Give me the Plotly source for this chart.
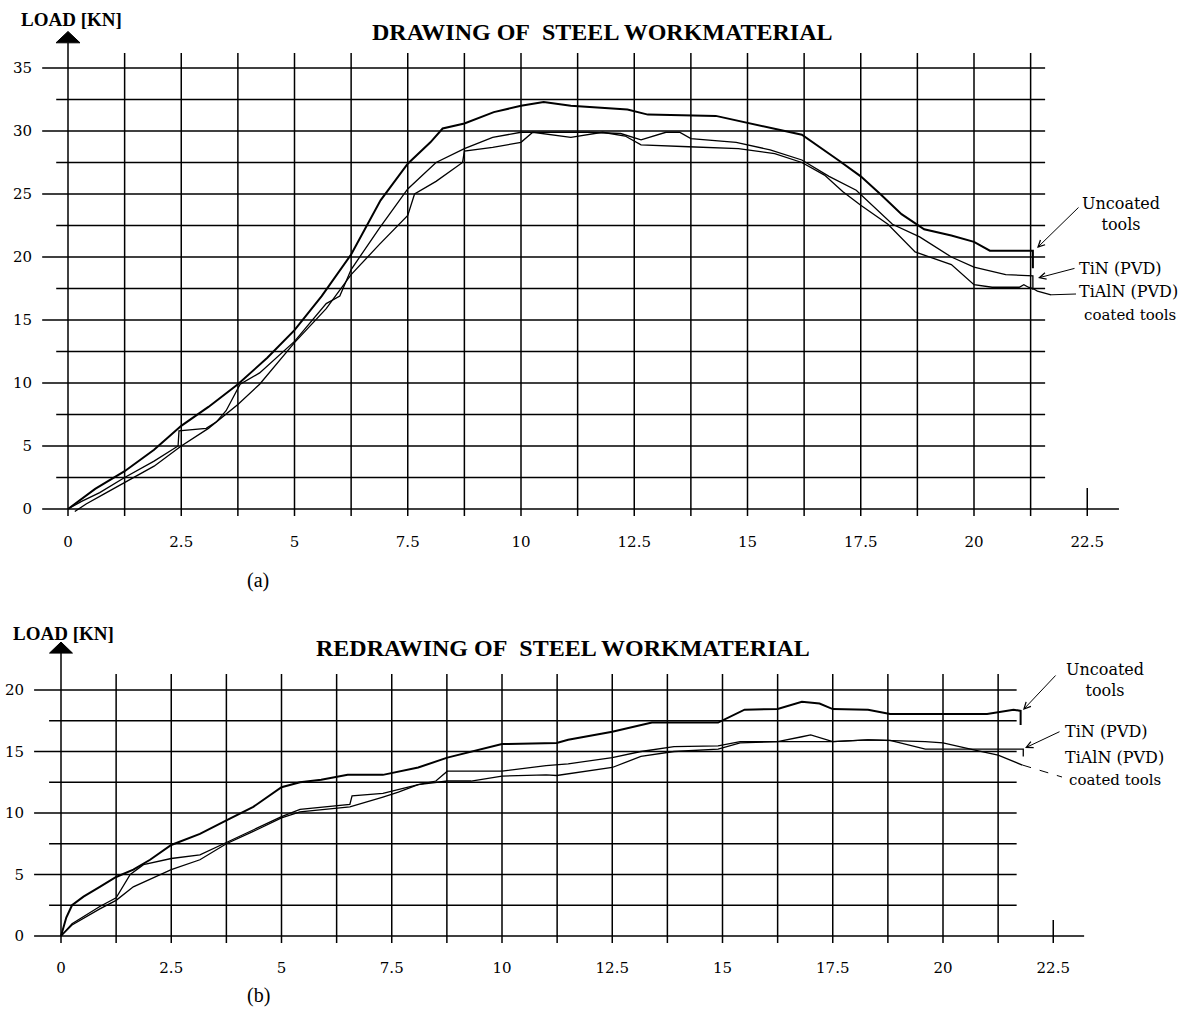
import plotly.graph_objects as go
import numpy as np

W, H = 1189, 1030

# ---------------- data: panel (a) DRAWING ----------------
a_unc_x = [0, 0.3, 0.6, 1.25, 1.9, 2.5, 3.1, 3.75, 4.4, 5.0, 5.6, 6.25, 6.9, 7.5, 8.0, 8.27, 8.75, 9.4,
           10.0, 10.5, 11.1, 12.35, 12.8, 14.3, 15.05, 16.2, 17.0, 17.5, 17.96, 18.4, 18.9, 19.5, 20.0,
           20.35, 21.3, 21.3]
a_unc_y = [0, 0.8, 1.6, 3.0, 4.7, 6.6, 8.1, 9.9, 12.0, 14.2, 16.9, 20.2, 24.5, 27.4, 29.1, 30.2, 30.6, 31.5,
           32.0, 32.3, 32.0, 31.7, 31.3, 31.2, 30.6, 29.7, 27.7, 26.4, 24.9, 23.4, 22.2, 21.7, 21.2,
           20.5, 20.5, 19.1]

a_tin_x = [0, 0.3, 0.7, 1.25, 1.9, 2.43, 2.45, 3.05, 3.27, 3.49, 3.8, 4.23, 5.0, 5.7, 6.0, 6.25, 6.875, 7.5,
           8.125, 8.75, 9.375, 10.0, 10.5, 11.5, 12.2, 12.65, 13.2, 13.5, 13.75, 14.75, 15.5, 16.2, 16.8,
           17.4, 18.2, 18.8, 19.5, 20.0, 20.7, 21.3, 21.3]
a_tin_y = [0, 0.6, 1.3, 2.5, 3.8, 5.0, 6.2, 6.4, 6.9, 7.8, 9.9, 10.8, 13.3, 16.3, 16.9, 19.0, 22.3, 25.4,
           27.5, 28.6, 29.5, 29.9, 29.9, 29.9, 29.8, 29.3, 29.9, 29.9, 29.4, 29.1, 28.5, 27.7, 26.4,
           25.3, 22.6, 21.6, 20.0, 19.2, 18.6, 18.5, 17.4]

a_tialn_x = [0.15, 0.4, 0.8, 1.25, 1.9, 2.5, 3.1, 3.75, 4.23, 5.0, 5.7, 6.25, 6.875, 7.5, 7.65, 8.125, 8.71,
             8.75, 9.375, 10.0, 10.26, 11.1, 11.8, 12.3, 12.65, 13.7, 14.8, 15.6, 16.2, 16.7, 17.1, 17.5,
             18.1, 18.7, 19.5, 20.0, 20.4, 21.0, 21.1, 21.2, 21.3, 21.4, 21.7]
a_tialn_y = [-0.2, 0.4, 1.2, 2.1, 3.4, 5.0, 6.4, 8.3, 9.9, 13.2, 15.9, 18.6, 21.0, 23.3, 25.0, 26.0, 27.5,
             28.4, 28.7, 29.1, 29.9, 29.5, 29.9, 29.6, 28.9, 28.75, 28.6, 28.2, 27.5, 26.5, 25.2, 24.1,
             22.6, 20.4, 19.4, 17.8, 17.6, 17.6, 17.8, 17.6, 17.5, 17.3, 17.0]

# ---------------- data: panel (b) REDRAWING ----------------
b_unc_x = [0, 0.12, 0.25, 0.51, 0.88, 1.25, 1.64, 2.02, 2.5, 3.15, 3.75, 4.36, 5.0, 5.42, 5.9, 6.5, 7.3,
           8.1, 8.76, 10.0, 11.24, 11.5, 12.5, 13.4, 14.9, 15.15, 15.5, 16.25, 16.8, 17.2, 17.5, 18.3,
           18.8, 21.0, 21.35, 21.6, 21.76, 21.76]
b_unc_y = [0, 1.5, 2.5, 3.2, 4.0, 4.8, 5.4, 6.2, 7.4, 8.3, 9.4, 10.5, 12.1, 12.5, 12.7, 13.1, 13.1,
           13.7, 14.5, 15.6, 15.7, 15.95, 16.6, 17.35, 17.35, 17.8, 18.4, 18.45, 19.05, 18.9, 18.45, 18.4,
           18.05, 18.05, 18.25, 18.4, 18.3, 17.15]

b_tin_x = [0, 0.25, 0.88, 1.25, 1.57, 1.87, 2.5, 3.15, 3.75, 4.36, 5.0, 5.42, 6.2, 6.55, 6.6, 7.3, 8.1,
           8.5, 8.76, 10.0, 11.0, 11.5, 12.5, 13.15, 13.9, 14.9, 15.4, 16.25, 17.5, 18.3, 18.8, 19.6,
           21.82, 21.82]
b_tin_y = [0, 1.0, 2.4, 3.1, 5.0, 5.8, 6.3, 6.6, 7.6, 8.6, 9.7, 10.3, 10.6, 10.7, 11.4, 11.6, 12.3,
           12.6, 13.4, 13.4, 13.85, 14.0, 14.5, 15.0, 15.4, 15.45, 15.8, 15.8, 15.8, 15.95, 15.9, 15.2,
           15.2, 14.6]

b_tialn_x = [0, 0.25, 0.88, 1.25, 1.64, 2.5, 3.15, 3.75, 4.36, 5.0, 5.42, 6.55, 7.3, 7.65, 8.1, 8.76, 9.3,
             10.0, 11.0, 11.24, 12.5, 13.15, 13.9, 14.9, 15.4, 16.25, 16.8, 17.0, 17.5, 18.3, 19.6, 20.0,
             20.75, 21.25, 21.8]
b_tialn_y = [0, 0.9, 2.2, 2.9, 4.0, 5.4, 6.2, 7.5, 8.5, 9.6, 10.1, 10.5, 11.3, 11.7, 12.3, 12.6, 12.6,
             13.0, 13.1, 13.05, 13.7, 14.6, 15.0, 15.2, 15.7, 15.8, 16.2, 16.35, 15.8, 15.95, 15.8, 15.7,
             15.1, 14.7, 13.9]

# ---------------- ticks / texts ----------------
x_tick_vals = [0, 2.5, 5, 7.5, 10, 12.5, 15, 17.5, 20, 22.5]
x_tick_text = ["0", "2.5", "5", "7.5", "10", "12.5", "15", "17.5", "20", "22.5"]
a_y_ticks = [0, 5, 10, 15, 20, 25, 30, 35]
b_y_ticks = [0, 5, 10, 15, 20]
title_a = "DRAWING OF\u00a0 STEEL WORKMATERIAL"
title_b = "REDRAWING OF\u00a0 STEEL WORKMATERIAL"
y_title = "LOAD [KN]"

# ---------------- geometry (pixel frame of each panel) ----------------
GEOM = {
    "a": dict(x0=68, sx=45.3, y0=509, sy=12.6, left=41, right=1135, top=25, bottom=531,
              vtop=36.2, vbot=-0.55, maj_left=-0.57, min_left=-0.26, h_right=21.57, axis_right=23.2,
              tick_top=1.67, tip=37.9, base=37.0, hw=0.265, ymax=35),
    "b": dict(x0=61, sx=44.1, y0=936, sy=12.3, left=33, right=1135, top=636, bottom=957,
              vtop=21.3, vbot=-0.57, maj_left=-0.61, min_left=-0.27, h_right=21.67, axis_right=23.2,
              tick_top=1.3, tip=23.9, base=23.0, hw=0.26, ymax=20),
}

SERIF = "DejaVu Serif"
TIMES = "Liberation Serif"
BLACK = "#000000"

fig = go.Figure()


def px2x(g, px):
    return (px - g["x0"]) / g["sx"]


def py2y(g, py):
    return (g["y0"] - py) / g["sy"]


panels = [
    ("a", "x", "y", "xaxis", "yaxis", a_y_ticks,
     [(a_unc_x, a_unc_y, 2.0), (a_tin_x, a_tin_y, 1.3), (a_tialn_x, a_tialn_y, 1.3)]),
    ("b", "x2", "y2", "xaxis2", "yaxis2", b_y_ticks,
     [(b_unc_x, b_unc_y, 2.0), (b_tin_x, b_tin_y, 1.3), (b_tialn_x, b_tialn_y, 1.3)]),
]

shapes = []
layout_axes = {}
for key, xr, yr, xa_name, ya_name, yticks, series in panels:
    g = GEOM[key]
    layout_axes[xa_name] = dict(
        domain=[g["left"] / W, g["right"] / W],
        range=[px2x(g, g["left"]), px2x(g, g["right"])],
        showgrid=False, zeroline=False, showline=False, ticks="",
        tickvals=x_tick_vals, ticktext=x_tick_text,
        tickfont=dict(family=SERIF, size=15, color=BLACK),
        anchor=yr, fixedrange=True,
    )
    layout_axes[ya_name] = dict(
        domain=[1 - g["bottom"] / H, 1 - g["top"] / H],
        range=[py2y(g, g["bottom"]), py2y(g, g["top"])],
        showgrid=False, zeroline=False, showline=False, ticks="",
        tickvals=yticks, ticktext=[str(v) for v in yticks],
        tickfont=dict(family=SERIF, size=15, color=BLACK),
        anchor=xr, fixedrange=True, ticklabelstandoff=8,
    )
    ln = dict(color=BLACK, width=1.5)
    # vertical grid lines every 1.25 up to 21.25
    for xv in np.arange(1.25, 21.26, 1.25):
        shapes.append(dict(type="line", xref=xr, yref=yr, x0=xv, x1=xv,
                           y0=g["vbot"], y1=g["vtop"], line=ln))
    # horizontal major lines (labelled values) and minor half-steps
    for yv in yticks:
        right = g["axis_right"] if yv == 0 else g["h_right"]
        shapes.append(dict(type="line", xref=xr, yref=yr, x0=g["maj_left"], x1=right,
                           y0=yv, y1=yv, line=ln))
    for yv in np.arange(2.5, g["ymax"], 5):
        shapes.append(dict(type="line", xref=xr, yref=yr, x0=g["min_left"], x1=g["h_right"],
                           y0=yv, y1=yv, line=ln))
    # extra tick at 22.5
    shapes.append(dict(type="line", xref=xr, yref=yr, x0=22.5, x1=22.5,
                       y0=g["vbot"], y1=g["tick_top"], line=ln))
    # y axis with arrow
    shapes.append(dict(type="line", xref=xr, yref=yr, x0=0, x1=0,
                       y0=g["vbot"], y1=g["base"], line=ln))
    hw = g["hw"]
    shapes.append(dict(type="path", xref=xr, yref=yr,
                       path=f"M {-hw},{g['base']} L 0,{g['tip']} L {hw},{g['base']} Z",
                       fillcolor=BLACK, line=dict(color=BLACK, width=1)))
    # curves
    for xs, ys, w in series:
        fig.add_trace(go.Scatter(x=xs, y=ys, xaxis=xr, yaxis=yr, mode="lines",
                                 line=dict(color=BLACK, width=w), showlegend=False,
                                 hoverinfo="skip"))

annotations = []


def text_ann(key, xr, yr, text, px, py, anchor="left", size=17, family=SERIF):
    g = GEOM[key]
    annotations.append(dict(xref=xr, yref=yr, x=px2x(g, px), y=py2y(g, py), text=text,
                            showarrow=False, xanchor=anchor, yanchor="middle",
                            font=dict(family=family, size=size, color=BLACK)))


def arrow_ann(key, xr, yr, tail, head, head_style=5):
    g = GEOM[key]
    annotations.append(dict(xref=xr, yref=yr, axref=xr, ayref=yr,
                            x=px2x(g, head[0]), y=py2y(g, head[1]),
                            ax=px2x(g, tail[0]), ay=py2y(g, tail[1]),
                            text="", showarrow=True, arrowhead=head_style, arrowsize=1.3,
                            arrowwidth=1, arrowcolor=BLACK, standoff=0, startstandoff=0))


# panel (a) texts
text_ann("a", "x", "y", "Uncoated<br>tools", 1121, 214, anchor="center", size=16)
text_ann("a", "x", "y", "TiN (PVD)", 1077, 268, size=16)
text_ann("a", "x", "y", "TiAlN (PVD)", 1077, 291, size=16)
text_ann("a", "x", "y", "coated tools", 1082, 315, size=15)
arrow_ann("a", "x", "y", (1080, 206), (1037, 248))
arrow_ann("a", "x", "y", (1076, 268), (1038, 278))
gA = GEOM["a"]
shapes.append(dict(type="line", xref="x", yref="y", x0=a_tialn_x[-1], y0=a_tialn_y[-1],
                   x1=px2x(gA, 1076), y1=py2y(gA, 294), line=dict(color=BLACK, width=1)))

# panel (b) texts
text_ann("b", "x2", "y2", "Uncoated<br>tools", 1105, 680, anchor="center", size=16)
text_ann("b", "x2", "y2", "TiN (PVD)", 1063, 731, size=16)
text_ann("b", "x2", "y2", "TiAlN (PVD)", 1063, 757, size=16)
text_ann("b", "x2", "y2", "coated tools", 1067, 780, size=15)
arrow_ann("b", "x2", "y2", (1057, 674), (1023, 710))
arrow_ann("b", "x2", "y2", (1061, 731), (1025, 748))
gB = GEOM["b"]
shapes.append(dict(type="line", xref="x2", yref="y2", x0=b_tialn_x[-1], y0=b_tialn_y[-1],
                   x1=px2x(gB, 1062), y1=py2y(gB, 777),
                   line=dict(color=BLACK, width=1, dash="dash")))


def paper_text(text, px, py, size, family, bold=False, anchor="center"):
    t = f"<b>{text}</b>" if bold else text
    annotations.append(dict(xref="paper", yref="paper", x=px / W, y=1 - py / H, text=t,
                            showarrow=False, xanchor=anchor, yanchor="middle",
                            font=dict(family=family, size=size, color=BLACK)))


paper_text(title_a, 602, 32, 24, TIMES, bold=True)
paper_text(title_b, 563, 648, 24, TIMES, bold=True)
paper_text(y_title, 71, 20, 19, TIMES, bold=True)
paper_text(y_title, 63, 633, 19, TIMES, bold=True)
paper_text("(a)", 258, 580, 20, TIMES)
paper_text("(b)", 258, 995, 20, TIMES)

fig.update_layout(
    width=W, height=H, autosize=False,
    margin=dict(l=0, r=0, t=0, b=0, pad=0),
    paper_bgcolor="white", plot_bgcolor="white",
    shapes=shapes, annotations=annotations,
    **layout_axes,
)

fig.write_html("out.html", config={"displayModeBar": False},
               post_script="document.body.style.margin='0';document.body.style.overflow='hidden';")
